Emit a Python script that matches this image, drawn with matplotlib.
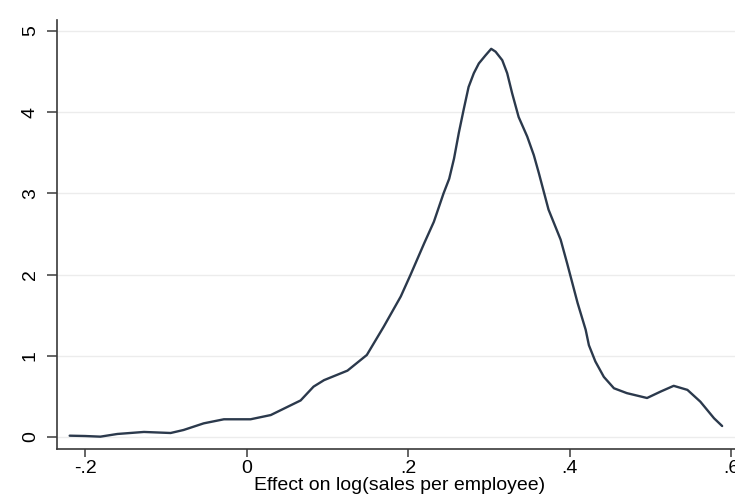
import numpy as np
import matplotlib.pyplot as plt

# kernel density curve
effect = [-0.219, -0.200, -0.181, -0.160, -0.127, -0.094, -0.078, -0.053, -0.028,
          0.005, 0.030, 0.067, 0.083, 0.096, 0.125, 0.149, 0.170, 0.191, 0.203,
          0.220, 0.232, 0.244, 0.251, 0.257, 0.263, 0.269, 0.275, 0.2815, 0.2877,
          0.296, 0.303, 0.3084, 0.3167, 0.3228, 0.329, 0.337, 0.3476, 0.3558,
          0.362, 0.374, 0.389, 0.397, 0.410, 0.420, 0.424, 0.432, 0.4425, 0.455,
          0.471, 0.496, 0.513, 0.529, 0.546, 0.562, 0.579, 0.589]
density = [0.016, 0.012, 0.004, 0.037, 0.062, 0.049, 0.086, 0.168, 0.218,
           0.218, 0.270, 0.450, 0.620, 0.700, 0.817, 1.010, 1.360, 1.730, 1.995,
           2.385, 2.650, 3.000, 3.180, 3.430, 3.750, 4.036, 4.310, 4.480, 4.600,
           4.700, 4.780, 4.745, 4.640, 4.480, 4.230, 3.940, 3.700, 3.470,
           3.250, 2.800, 2.430, 2.140, 1.650, 1.320, 1.130, 0.930, 0.740, 0.600,
           0.540, 0.480, 0.560, 0.630, 0.580, 0.435, 0.230, 0.135]

xticks = [-0.2, 0, 0.2, 0.4, 0.6]
xlabels = ['-.2', '0', '.2', '.4', '.6']
yticks = [0, 1, 2, 3, 4, 5]
ylabels = ['0', '1', '2', '3', '4', '5']

plt.rcParams['font.family'] = ['Liberation Sans', 'DejaVu Sans']

fig = plt.figure(figsize=(7.35, 4.95), dpi=100)
ax = fig.add_axes([57/735, 46/495, 693/735, 429/495])

ax.plot(effect, density, color='#2b394c', lw=1.7, zorder=3,
        solid_joinstyle='round', solid_capstyle='round')

ax.set_xlim(-0.2347, 0.6235)
ax.set_ylim(-0.148, 5.135)
ax.set_xticks(xticks)
ax.set_xticklabels(xlabels, fontsize=14)
ax.set_yticks(yticks)
ax.set_yticklabels(ylabels, fontsize=14, rotation=90, va='center')
ax.grid(axis='y', color='#ececec', lw=1.0)
ax.set_axisbelow(True)

for s in ['top', 'right']:
    ax.spines[s].set_visible(False)
for s in ['left', 'bottom']:
    ax.spines[s].set_color('#3a3a3a')
    ax.spines[s].set_linewidth(1.2)
ax.tick_params(axis='x', length=6, width=1.1, color='#3a3a3a', pad=2)
ax.tick_params(axis='y', length=7, width=1.1, color='#3a3a3a', pad=6)
ax.set_xlabel('Effect on log(sales per employee)', fontsize=14, labelpad=0)
ax.xaxis.label.set_position((343/693, 0))

fig.savefig('out.png', dpi=100)
